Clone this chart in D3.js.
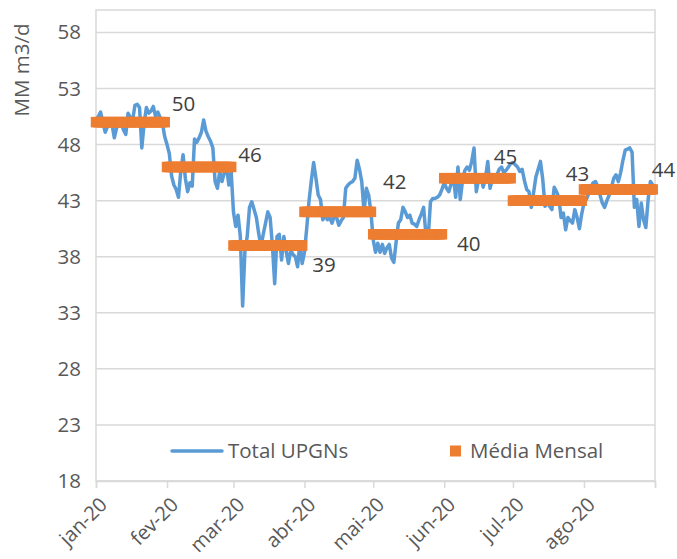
<!DOCTYPE html>
<html>
<head>
<meta charset="utf-8">
<script src="https://cdn.jsdelivr.net/npm/d3@7"></script>
<style>
  body { margin: 0; background: #fff; }
  svg text { font-family: "Open Sans", sans-serif; }
</style>
</head>
<body>
<div id="chart"></div>
<script>
// Month tick labels (axis ends at 1 Sep, unlabeled)
const MONTH_LABELS = ["jan-20", "fev-20", "mar-20", "abr-20", "mai-20", "jun-20", "jul-20", "ago-20"];

// Monthly average (Média Mensal)
const MONTHLY_MEAN = [50, 46, 39, 42, 40, 45, 43, 44];

// Daily values of Total UPGNs, one list per month (MM m3/d)
const upgnJan = [50.2, 50.5, 50.9, 50.0, 49.1, 49.6, 49.7, 49.8, 48.6, 49.5, 49.7, 49.9, 49.3, 48.9, 50.8, 50.4,
                 50.2, 51.5, 51.6, 51.3, 47.7, 49.9, 51.3, 50.8, 51.0, 51.4, 50.5, 50.9, 50.4, 49.9, 48.7];
const upgnFev = [48.0, 47.2, 45.2, 44.4, 44.0, 43.3, 45.6, 47.1, 45.0, 43.8, 44.6, 44.3, 48.5, 48.2, 48.6,
                 49.1, 50.2, 49.2, 48.7, 48.3, 47.7, 44.7, 44.1, 45.6, 44.7, 45.5, 45.9, 44.4, 45.6];
const upgnMar = [42.0, 40.7, 41.7, 39.8, 33.6, 38.5, 39.8, 42.4, 42.9, 42.2, 41.5, 40.1, 38.9, 40.0, 41.0, 42.0,
                 41.5, 39.0, 35.6, 39.8, 40.0, 37.7, 39.8, 38.5, 37.4, 38.6, 38.2, 38.0, 37.1, 39.2, 37.4];
const upgnAbr = [38.4, 40.6, 43.0, 44.8, 46.4, 45.0, 43.5, 43.1, 41.3, 41.7, 41.3, 41.5, 41.0, 41.6, 41.5,
                 40.8, 41.2, 41.5, 44.1, 44.4, 44.6, 44.7, 45.0, 46.6, 45.8, 44.7, 42.0, 44.1, 43.5, 42.0];
const upgnMai = [39.5, 38.4, 39.2, 38.4, 39.1, 38.3, 38.8, 39.1, 37.9, 37.5, 39.3, 41.0, 41.3, 42.4, 42.0, 41.5,
                 41.7, 41.0, 40.9, 40.7, 41.3, 41.8, 42.4, 40.0, 39.7, 42.9, 43.2, 43.2, 43.3, 43.5, 44.0];
const upgnJun = [44.6, 44.1, 43.8, 44.5, 45.1, 43.3, 46.0, 43.1, 44.8, 45.7, 46.0, 45.7, 46.5, 47.7, 43.8,
                 44.9, 45.2, 44.2, 45.0, 46.5, 44.1, 44.9, 45.0, 45.3, 45.8, 46.0, 45.5, 45.7, 46.0, 46.3];
const upgnJul = [46.4, 46.2, 46.0, 45.6, 45.8, 44.8, 44.0, 43.8, 42.4, 43.7, 45.1, 45.8, 46.5, 44.9, 42.5, 42.8,
                 42.5, 42.2, 44.2, 43.8, 43.3, 41.5, 41.9, 40.4, 41.5, 41.2, 41.0, 42.2, 41.5, 40.5, 41.8];
const upgnAgo = [42.8, 43.1, 43.6, 44.2, 44.6, 44.7, 44.3, 43.5, 42.8, 42.4, 43.0, 43.5, 44.2, 45.0, 45.3, 44.7,
                 45.5, 46.6, 47.5, 47.6, 47.7, 47.3, 42.4, 43.1, 40.7, 42.8, 41.3, 40.6, 43.1, 44.7, 44.4];

const Y_TICKS = [18, 23, 28, 33, 38, 43, 48, 53, 58];

// label placement for the monthly mean values (layout only)
const LABEL_OFFSETS = [[7, -18], [7, -12], [10, 19], [12, -30], [15, 10], [-17, -21], [-16, -27], [-1, -20]];

const months = [upgnJan, upgnFev, upgnMar, upgnAbr, upgnMai, upgnJun, upgnJul, upgnAgo];
const start = new Date(2020, 0, 1);

let daily = [];
let means = [];
months.forEach((vals, m) => {
    vals.forEach((v, i) => {
        const date = new Date(2020, m, i + 1);
        daily.push({ date, value: v });
        means.push({ date, value: MONTHLY_MEAN[m], month: m, last: i === vals.length - 1 });
    });
});

const width = 677, height = 559;
const margin = { top: 10, right: 22, bottom: 78, left: 96 };

const svg = d3.select("#chart").append("svg")
    .attr("width", width)
    .attr("height", height);

const x = d3.scaleTime()
    .domain([start, new Date(2020, 8, 1)])
    .range([margin.left, width - margin.right]);

const y = d3.scaleLinear()
    .domain([18, 60])
    .range([height - margin.bottom, margin.top]);

const tickDates = d3.range(9).map(m => new Date(2020, m, 1));

// plot area frame + gridlines
svg.append("rect")
    .attr("x", margin.left).attr("y", margin.top)
    .attr("width", width - margin.right - margin.left)
    .attr("height", height - margin.bottom - margin.top)
    .attr("fill", "none").attr("stroke", "#d9d9d9").attr("stroke-width", 1.5);

svg.append("g")
    .selectAll("line")
    .data(Y_TICKS)
    .join("line")
    .attr("x1", margin.left).attr("x2", width - margin.right)
    .attr("y1", d => y(d)).attr("y2", d => y(d))
    .attr("stroke", "#d9d9d9").attr("stroke-width", 1.5);

// y axis labels
const yAxis = svg.append("g")
    .attr("transform", `translate(${margin.left},0)`)
    .call(d3.axisLeft(y).tickValues(Y_TICKS).tickSize(0).tickPadding(15));
yAxis.select(".domain").remove();
yAxis.selectAll("text").attr("fill", "#595959").style("font-size", "20.5px");

// x axis
const xAxis = svg.append("g")
    .attr("transform", `translate(0,${height - margin.bottom})`)
    .call(d3.axisBottom(x).tickValues(tickDates).tickSize(7)
        .tickFormat((d, i) => MONTH_LABELS[i] || ""));
xAxis.select(".domain").attr("stroke", "#d9d9d9").attr("stroke-width", 1.5);
xAxis.selectAll("line").attr("stroke", "#d9d9d9").attr("stroke-width", 1.5);
xAxis.selectAll("text")
    .attr("fill", "#595959").style("font-size", "20px")
    .attr("text-anchor", "end")
    .attr("x", 0).attr("y", 0).attr("dy", "0.35em")
    .attr("transform", "translate(7,20) rotate(-45)");

// y title
svg.append("text")
    .attr("transform", "rotate(-90)")
    .attr("x", -70).attr("y", 29)
    .attr("text-anchor", "middle")
    .attr("fill", "#595959")
    .style("font-size", "20.5px")
    .text("MM m3/d");

// Total UPGNs line
const line = d3.line().x(d => x(d.date)).y(d => y(d.value));
svg.append("path")
    .datum(daily)
    .attr("fill", "none")
    .attr("stroke", "#5b9bd5")
    .attr("stroke-width", 3.5)
    .attr("stroke-linejoin", "round")
    .attr("stroke-linecap", "round")
    .attr("d", line);

// Média Mensal square markers
const mk = 10.5;
svg.append("g")
    .selectAll("rect")
    .data(means)
    .join("rect")
    .attr("x", d => x(d.date) - mk / 2)
    .attr("y", d => y(d.value) - mk / 2)
    .attr("width", mk).attr("height", mk)
    .attr("fill", "#ed7d31");

// data labels
svg.append("g")
    .selectAll("text")
    .data(means.filter(d => d.last))
    .join("text")
    .attr("x", d => x(d.date) + LABEL_OFFSETS[d.month][0])
    .attr("y", d => y(d.value) + LABEL_OFFSETS[d.month][1])
    .attr("dy", "0.35em")
    .attr("fill", "#404040")
    .style("font-size", "20.5px")
    .text(d => d.value);

// legend
const lg = svg.append("g").attr("transform", "translate(0,451)");
lg.append("line")
    .attr("x1", 172).attr("x2", 222)
    .attr("stroke", "#5b9bd5").attr("stroke-width", 3.5).attr("stroke-linecap", "round");
lg.append("text").attr("x", 228).attr("dy", "0.35em")
    .attr("fill", "#595959").style("font-size", "20.5px").text("Total UPGNs");
lg.append("rect")
    .attr("x", 450).attr("y", -5.5).attr("width", 11).attr("height", 11)
    .attr("fill", "#ed7d31");
lg.append("text").attr("x", 470).attr("dy", "0.35em")
    .attr("fill", "#595959").style("font-size", "20.5px").text("Média Mensal");
</script>
</body>
</html>
